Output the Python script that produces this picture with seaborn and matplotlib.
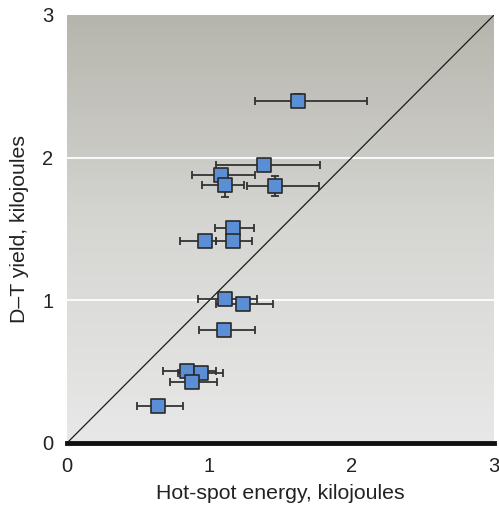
import numpy as np
import pandas as pd
import matplotlib
matplotlib.use("Agg")
import matplotlib.pyplot as plt
import seaborn as sns

# hot-spot energy (kJ) with asymmetric error bars, D-T yield (kJ)
energy = [1.626, 1.381, 1.085, 1.111, 1.459, 1.167, 0.968, 1.167,
          1.113, 1.236, 1.106, 0.842, 0.940, 0.879, 0.641]
energy_lo = [1.32, 1.045, 0.876, 0.951, 1.268, 1.038, 0.792, 1.045,
             0.918, 1.050, 0.925, 0.674, 0.780, 0.721, 0.491]
energy_hi = [2.11, 1.776, 1.320, 1.245, 1.769, 1.311, 1.045, 1.297,
             1.334, 1.445, 1.320, 1.048, 1.097, 1.057, 0.817]
yield_dt = [2.40, 1.951, 1.878, 1.806, 1.803, 1.508, 1.419, 1.419,
            1.009, 0.974, 0.789, 0.506, 0.492, 0.424, 0.262]
yield_err = [0.045, 0.02, 0.0, 0.085, 0.07, 0.0, 0.0, 0.0,
             0.0, 0.0, 0.0, 0.0, 0.0, 0.0, 0.0]

df = pd.DataFrame({"energy": energy, "lo": energy_lo, "hi": energy_hi,
                   "yield": yield_dt, "yerr": yield_err})

sns.set_style("white")
plt.rcParams["font.family"] = ["Liberation Sans", "DejaVu Sans"]

fig = plt.figure(figsize=(4.99, 5.05), dpi=100, facecolor="white")
ax = fig.add_axes([0.1343, 0.1228, 0.8557, 0.8475])

# gray gradient panel
grad = np.linspace(0, 1, 256).reshape(-1, 1)
cmap = matplotlib.colors.LinearSegmentedColormap.from_list(
    "panel", ["#e8e8e8", "#d6d6d3", "#b6b5ad"])
ax.imshow(grad, extent=[0, 3, 0, 3], origin="lower", aspect="auto",
          cmap=cmap, zorder=0)

for gy in [1, 2]:
    ax.axhline(gy, color="white", lw=1.3, zorder=1)

ax.plot([0, 3], [0, 3], color="#1a1a1a", lw=0.9, zorder=2)

xerr = np.array([df["energy"] - df["lo"], df["hi"] - df["energy"]])
ax.errorbar(df["energy"], df["yield"], xerr=xerr, yerr=df["yerr"], fmt="none",
            ecolor="#333333", elinewidth=1.3, capsize=3, capthick=1.3, zorder=3)
sns.scatterplot(data=df, x="energy", y="yield", ax=ax, marker="s", s=95,
                color="#5a8fd6", edgecolor="#2a2a2a", linewidth=1.2, zorder=4,
                legend=False)

ax.set_xlim(0, 3)
ax.set_ylim(0, 3)
for side in ["top", "right", "left"]:
    ax.spines[side].set_visible(False)
ax.spines["bottom"].set_linewidth(3.5)
ax.spines["bottom"].set_color("#111111")
ax.spines["bottom"].set_zorder(5)

ax.set_xticks([0, 1, 2, 3])
ax.set_yticks([0, 1, 2, 3])
ax.tick_params(axis="x", direction="in", length=7, width=1, color="#333333",
               labelsize=14.5, pad=10, labelcolor="#222222")
ax.tick_params(axis="y", length=0, labelsize=14.5, pad=10, labelcolor="#222222")
ax.set_xlabel("Hot-spot energy, kilojoules", fontsize=15.3, color="#222222",
              labelpad=6)
ax.set_ylabel("D\u2013T yield, kilojoules", fontsize=15.3, color="#222222",
              labelpad=9)

fig.savefig("out.png", dpi=100, facecolor="white")
